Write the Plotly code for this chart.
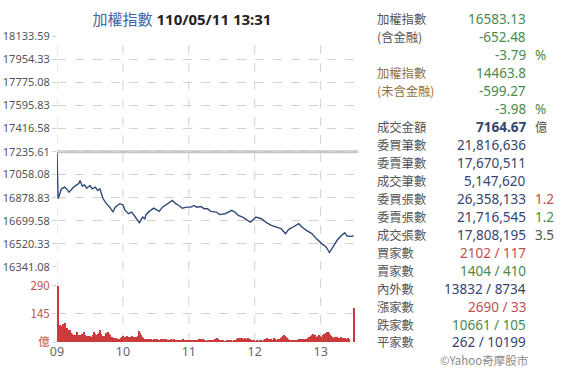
import plotly.graph_objects as go
import pandas as pd

DAY = "2021-05-11 "

# ---- price line (time, index level) ----
price_times = ["09:00", "09:01", "09:02", "09:04", "09:07", "09:09", "09:11", "09:13", "09:15", "09:18",
               "09:20", "09:21", "09:23", "09:25", "09:27", "09:30", "09:32", "09:35", "09:37", "09:39",
               "09:42", "09:45", "09:48", "09:51", "09:53", "09:57", "10:00", "10:02", "10:05", "10:08",
               "10:11", "10:15", "10:18", "10:20", "10:21", "10:24", "10:28", "10:30", "10:33", "10:36",
               "10:41", "10:45", "10:48", "10:51", "10:54", "10:58", "11:02", "11:05", "11:07", "11:11",
               "11:14", "11:17", "11:20", "11:25", "11:28", "11:33", "11:36", "11:39", "11:42", "11:45",
               "11:49", "11:52", "11:56", "11:59", "12:01", "12:06", "12:10", "12:15", "12:19", "12:24",
               "12:28", "12:31", "12:35", "12:40", "12:43", "12:47", "12:52", "12:56", "13:01", "13:05",
               "13:08", "13:11", "13:15", "13:19", "13:22", "13:24", "13:28", "13:30"]
price_values = [17228, 16870, 16895, 16947, 16960, 16945, 16921, 16940, 16960, 16978,
                16990, 17012, 16968, 16978, 16952, 16973, 16947, 16960, 16934, 16947,
                16870, 16832, 16805, 16767, 16805, 16832, 16824, 16780, 16754, 16767,
                16728, 16685, 16728, 16715, 16747, 16772, 16797, 16785, 16772, 16805,
                16832, 16857, 16832, 16818, 16797, 16805, 16805, 16818, 16805, 16810,
                16793, 16793, 16772, 16767, 16747, 16754, 16767, 16780, 16767, 16741,
                16728, 16710, 16689, 16710, 16728, 16715, 16689, 16664, 16651, 16638,
                16600, 16633, 16651, 16677, 16651, 16625, 16600, 16561, 16522, 16496,
                16453, 16496, 16548, 16586, 16607, 16581, 16578, 16583]
prev_close = 17235.61
price_ticks = [18133.59, 17954.33, 17775.08, 17595.83, 17416.58, 17235.61,
               17058.08, 16878.83, 16699.58, 16520.33, 16341.08]

# ---- volume per minute from 09:00 (億) ----
vol_values = [290,
              75, 90, 68, 82, 95, 70, 100, 58, 72, 62,
              66, 50, 44, 38, 40, 36, 34, 55, 40, 36,
              40, 44, 38, 52, 36, 33, 30, 35, 31, 34,
              30, 37, 56, 44, 40, 36, 42, 48, 64, 44,
              34, 30, 33, 49, 46, 54, 44, 36, 30, 26,
              24, 21, 25, 20, 17, 15, 19, 22, 29, 34,
              30, 27, 31, 26, 24, 29, 27, 33, 28, 26,
              30, 27, 33, 58, 50, 38, 28, 22, 20, 18,
              16, 15, 18, 14, 16, 13, 12, 15, 14, 16,
              18, 14, 12, 15, 20, 17, 16, 19, 15, 13,
              12, 14, 16, 13, 11, 15, 14, 12, 10, 13,
              12, 11, 13, 15, 12, 10, 11, 9, 12, 14,
              12, 10, 11, 9, 10, 12, 11, 13, 15, 18,
              20, 16, 12, 10, 9, 8, 10, 12, 11, 9,
              10, 12, 16, 20, 22, 16, 12, 10, 9, 11,
              10, 9, 8, 10, 9, 11, 10, 12, 9, 8,
              10, 14, 18, 22, 20, 24, 18, 22, 19, 16,
              22, 20, 24, 18, 16, 14, 12, 10, 11, 9,
              8, 10, 9, 12, 10, 8, 9, 12, 15, 18,
              22, 16, 20, 18, 14, 12, 22, 18, 14, 12,
              16, 20, 24, 30, 34, 38, 32, 28, 22, 18,
              14, 12, 10, 11, 9, 10, 12, 11, 14, 16,
              18, 15, 17, 20, 16, 14, 18, 22, 26, 30,
              34, 40, 44, 36, 28, 26, 32, 40, 34, 26,
              30, 36, 42, 50, 54, 56, 48, 40, 34, 28,
              24, 22, 26, 28, 24, 20, 22, 26, 24, 20,
              22, 24, 20, 22, 18,
              0, 0, 0, 0,
              178]
vol_ticks = [0, 145, 290]
vol_ticktext = ["億", "145", "290"]
hour_labels = ["09", "10", "11", "12", "13"]

title_name = "加權指數"
title_time = "110/05/11 13:31"

# right info panel: (label, value, unit, label colour, value colour, unit colour)
GRAY, GREEN, RED, NAVY, BROWN = "#555555", "#4a8a4e", "#c0504d", "#34466f", "#94703f"
info_rows = [
    ("加權指數", "16583.13", "", GRAY, GREEN, GRAY),
    ("(含金融)", "-652.48", "", GRAY, GREEN, GRAY),
    ("", "-3.79", "%", GRAY, GREEN, GREEN),
    ("加權指數", "14463.8", "", BROWN, GREEN, GRAY),
    ("(未含金融)", "-599.27", "", BROWN, GREEN, GRAY),
    ("", "-3.98", "%", GRAY, GREEN, GREEN),
    ("成交金額", "<b>7164.67</b>", "億", GRAY, NAVY, GRAY),
    ("委買筆數", "21,816,636", "", GRAY, NAVY, GRAY),
    ("委賣筆數", "17,670,511", "", GRAY, NAVY, GRAY),
    ("成交筆數", "5,147,620", "", GRAY, NAVY, GRAY),
    ("委買張數", "26,358,133", "1.2", GRAY, NAVY, RED),
    ("委賣張數", "21,716,545", "1.2", GRAY, NAVY, GREEN),
    ("成交張數", "17,808,195", "3.5", GRAY, NAVY, GRAY),
    ("買家數", "2102 / 117", "", GRAY, RED, GRAY),
    ("賣家數", "1404 / 410", "", GRAY, GREEN, GRAY),
    ("內外數", "13832 / 8734", "", GRAY, NAVY, GRAY),
    ("漲家數", "2690 / 33", "", GRAY, RED, GRAY),
    ("跌家數", "10661 / 105", "", GRAY, GREEN, GRAY),
    ("平家數", "262 / 10199", "", GRAY, NAVY, GRAY),
]
copyright_text = "©Yahoo奇摩股市"

# ---- layout geometry ----
W, H = 567, 374
PL, PR, PT, PB = 57, 358, 36, 342.5
CJK = "Noto Sans CJK TC"
LAT = "Noto Sans"


def px(xp):
    return (xp - PL) / (PR - PL)


def py(yp):
    return (PB - yp) / (PB - PT)


price_x = [DAY + t for t in price_times]
vol_x = pd.date_range(DAY + "09:00", periods=len(vol_values), freq="1min")
x_start, x_end = DAY + "09:00", DAY + "13:34"

fig = go.Figure()
fig.add_trace(go.Bar(x=vol_x, y=vol_values, xaxis="x2", yaxis="y2",
                     marker=dict(color="#cc3b3b", line=dict(width=0)),
                     width=60000, offset=0, hoverinfo="skip"))
fig.add_trace(go.Scatter(x=price_x, y=price_values, mode="lines", xaxis="x", yaxis="y",
                         line=dict(color="#2f4a78", width=1.4), hoverinfo="skip"))

shapes = []
for h in range(9, 14):
    shapes.append(dict(type="line", xref="x", yref="paper", x0=f"{DAY}{h:02d}:00", x1=f"{DAY}{h:02d}:00",
                       y0=0, y1=1, line=dict(color="#d2d2d2", width=1, dash="dash"), layer="below"))
shapes.append(dict(type="line", xref="x", yref="y", x0=x_start, x1=x_end, y0=prev_close, y1=prev_close,
                   line=dict(color="#c6c6c6", width=3), layer="below"))

annotations = []
for i, (lab, val, unit, lc, vc, uc) in enumerate(info_rows):
    yy = py(19 + 18 * i)
    if lab:
        annotations.append(dict(x=px(375), y=yy, xref="paper", yref="paper", text=lab, showarrow=False,
                                xanchor="left", yanchor="middle", font=dict(size=12.3, color=lc, family=CJK)))
    annotations.append(dict(x=px(528), y=yy, xref="paper", yref="paper", text=val, showarrow=False,
                            xanchor="right", yanchor="middle", font=dict(size=13.5, color=vc, family=LAT)))
    if unit:
        annotations.append(dict(x=px(533), y=yy, xref="paper", yref="paper", text=unit, showarrow=False,
                                xanchor="left", yanchor="middle",
                                font=dict(size=13.5 if unit != "億" else 12.3, color=uc,
                                          family=CJK if unit == "億" else LAT)))
annotations.append(dict(x=px(530), y=py(361), xref="paper", yref="paper", text=copyright_text,
                        showarrow=False, xanchor="right", yanchor="middle",
                        font=dict(size=11.5, color="#8a8a8a", family=CJK)))

grid = dict(showgrid=True, gridcolor="#d2d2d2", griddash="dash", gridwidth=1, zeroline=False)

fig.update_layout(
    width=W, height=H,
    margin=dict(l=PL, r=W - PR, t=PT, b=H - PB),
    paper_bgcolor="white", plot_bgcolor="white",
    showlegend=False, bargap=0,
    font=dict(family=LAT, color="#555555", size=12),
    title=dict(text=(f"<span style='color:#3a68a8;font-family:{CJK}'>{title_name}</span> "
                     f"<b>{title_time}</b>"),
               x=182 / W, xanchor="center", xref="container", y=1 - 20 / H, yanchor="middle",
               yref="container", font=dict(size=15, color="#222222", family=LAT)),
    xaxis=dict(domain=[0, 1], range=[x_start, x_end], type="date", showgrid=False, showticklabels=False,
               zeroline=False, showline=False, anchor="y", fixedrange=True, automargin=False),
    xaxis2=dict(domain=[0, 1], range=[x_start, x_end], type="date", showgrid=False, matches="x",
                anchor="y2", tickvals=[f"{DAY}{h}:00" for h in hour_labels], ticktext=hour_labels,
                ticks="", tickfont=dict(size=12.5, color="#666666", family=LAT), showline=False,
                zeroline=False, automargin=False),
    yaxis=dict(domain=[py(267.3), 1], range=[price_ticks[-1], price_ticks[0]], tickvals=price_ticks,
               ticktext=[f"{v:.2f}" for v in price_ticks], ticks="outside", ticklen=4, tickcolor="#d2d2d2",
               tickfont=dict(size=11, color="#555555", family=LAT), anchor="x", automargin=False, **grid),
    yaxis2=dict(domain=[0, py(286)], range=[0, 290], tickvals=vol_ticks, ticktext=vol_ticktext,
                ticks="outside", ticklen=4, tickcolor="#d2d2d2",
                tickfont=dict(size=11.5, color="#c0504d", family=CJK), anchor="x2", automargin=False, **grid),
    shapes=shapes, annotations=annotations,
)

fig.write_html("out.html", config={"displayModeBar": False},
               post_script="document.body.style.margin='0px';document.body.style.padding='0px';")
